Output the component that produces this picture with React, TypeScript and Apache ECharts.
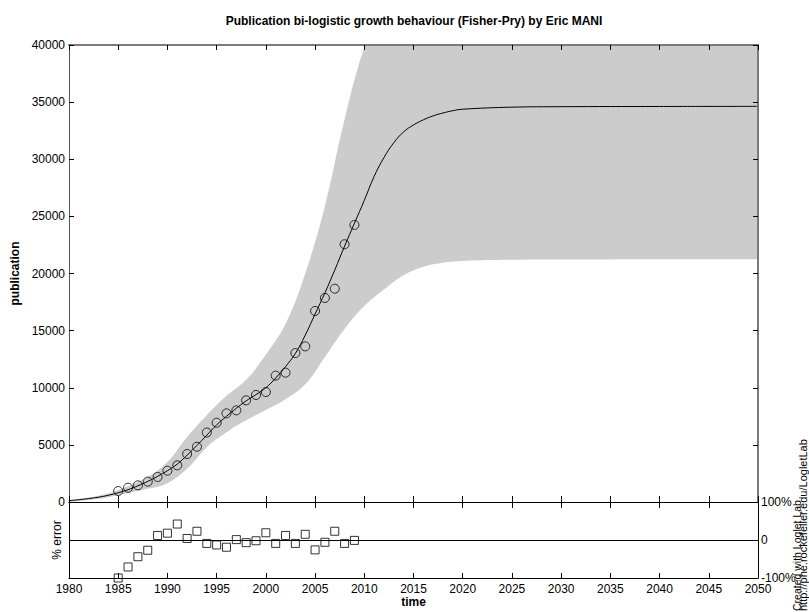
import React, { useEffect, useRef } from "react";
import * as echarts from "echarts";

const TITLE = "Publication bi-logistic growth behaviour (Fisher-Pry) by Eric MANI";
const CREDIT = "Created with Loglet Lab";
const CREDIT_URL = "http://phe.rockefeller.edu/LogletLab";

const dataYears = [
  1985, 1986, 1987, 1988, 1989, 1990, 1991, 1992, 1993, 1994, 1995, 1996, 1997,
  1998, 1999, 2000, 2001, 2002, 2003, 2004, 2005, 2006, 2007, 2008, 2009,
];
const publications = [
  960, 1250, 1460, 1780, 2190, 2740, 3210, 4200, 4840, 6080, 6940, 7760, 8020,
  8900, 9370, 9630, 11060, 11320, 13040, 13620, 16720, 17860, 18670, 22560, 24250,
];
const percentError = [
  -100, -71, -44, -27, 12, 18, 42, 4, 23, -9, -13, -19, 1, -7, -2, 19, -9, 12,
  -9, 15, -26, -6, 23, -9, -1,
];

const fitYears = [
  1980, 1981, 1982, 1983, 1984, 1985, 1986, 1987, 1988, 1989, 1990, 1991, 1992,
  1993, 1994, 1995, 1996, 1997, 1998, 1999, 2000, 2001, 2002, 2003, 2004, 2005,
  2006, 2007, 2008, 2009, 2010, 2011, 2012, 2013, 2014, 2015, 2016, 2017, 2018,
  2019, 2020, 2025, 2030, 2040, 2050,
];
const fitValues = [
  120, 200, 300, 420, 590, 810, 1080, 1420, 1800, 2240, 2740, 3320, 4100, 4950,
  5850, 6750, 7500, 8200, 8850, 9400, 10000, 10850, 11850, 13000, 14600, 16450,
  18300, 20300, 22400, 24400, 26400, 28500, 30150, 31450, 32400, 33000, 33450,
  33800, 34050, 34250, 34380, 34560, 34600, 34620, 34630,
];

const bandYears = [
  1980, 1983, 1985, 1988, 1990, 1992, 1994, 1996, 1998, 2000, 2002, 2004, 2006,
  2008, 2010, 2012, 2014, 2016, 2018, 2020, 2025, 2030, 2050,
];
const bandLower = [
  0, 280, 600, 1150, 1650, 2900, 4800, 6100, 7150, 8050, 9000, 10300, 12700,
  15150, 17150, 18600, 19850, 20600, 20950, 21100, 21200, 21230, 21250,
];
const bandUpper = [
  150, 550, 1050, 2200, 3500, 5700, 7600, 9300, 10700, 12900, 15600, 20000,
  25900, 33500, 39800, 44000, 46500, 47500, 48000, 48200, 48300, 48300, 48300,
];

const FONT = "'Liberation Sans', Arial, sans-serif";

export default function App() {
  const ref = useRef<HTMLDivElement>(null);

  useEffect(() => {
    if (!ref.current) return;
    const chart = echarts.init(ref.current, undefined, { renderer: "svg" });

    const tick = (len: number) => ({
      show: true,
      inside: true,
      length: len,
      lineStyle: { color: "#000", width: 1 },
    });
    const noSplit = { show: false };
    const labelStyle = {
      fontSize: 12,
      color: "#000",
      fontFamily: FONT,
      formatter: (v: number) => String(v),
    };

    const option: any = {
      animation: false,
      backgroundColor: "#fff",
      grid: [
        { left: 69, top: 45, width: 689, height: 457, containLabel: false },
        { left: 69, top: 502, width: 689, height: 76, containLabel: false },
      ],
      xAxis: [
        {
          gridIndex: 0, type: "value", position: "bottom", min: 1980, max: 2050, interval: 5,
          axisLine: { show: true, onZero: false, lineStyle: { color: "#000", width: 1 } },
          axisTick: tick(6), axisLabel: { show: false }, splitLine: noSplit, z: 5,
        },
        {
          gridIndex: 0, type: "value", position: "top", min: 1980, max: 2050, interval: 5,
          axisLine: { show: true, onZero: false, lineStyle: { color: "#7a7a7a", width: 2 } },
          axisTick: tick(5), axisLabel: { show: false }, splitLine: noSplit, z: 5,
        },
        {
          gridIndex: 1, type: "value", position: "bottom", min: 1980, max: 2050, interval: 5,
          axisLine: { show: true, onZero: false, lineStyle: { color: "#000", width: 1 } },
          axisTick: tick(5),
          axisLabel: { ...labelStyle, margin: 5 },
          name: "time", nameLocation: "middle", nameGap: 17,
          nameTextStyle: { fontSize: 12, fontWeight: "bold", color: "#000", fontFamily: FONT },
          splitLine: noSplit, z: 5,
        },
        {
          gridIndex: 1, type: "value", position: "top", min: 1980, max: 2050, interval: 5,
          axisLine: { show: true, onZero: false, lineStyle: { color: "#000", width: 1 } },
          axisTick: tick(6), axisLabel: { show: false }, splitLine: noSplit, z: 5,
        },
      ],
      yAxis: [
        {
          gridIndex: 0, type: "value", position: "left", min: 0, max: 40000, interval: 5000,
          axisLine: { show: true, onZero: false, lineStyle: { color: "#555", width: 1 } },
          axisTick: tick(5),
          axisLabel: { ...labelStyle, margin: 4 },
          name: "publication", nameLocation: "middle", nameGap: 44, nameRotate: 90,
          nameTextStyle: { fontSize: 12, fontWeight: "bold", color: "#000", fontFamily: FONT },
          splitLine: noSplit, z: 5,
        },
        {
          gridIndex: 0, type: "value", position: "right", min: 0, max: 40000, interval: 5000,
          axisLine: { show: true, onZero: false, lineStyle: { color: "#7a7a7a", width: 2 } },
          axisTick: tick(5), axisLabel: { show: false }, splitLine: noSplit, z: 5,
        },
        {
          gridIndex: 1, type: "value", position: "left", min: -100, max: 100, interval: 100,
          axisLine: { show: true, onZero: false, lineStyle: { color: "#000", width: 1 } },
          axisTick: { show: false }, axisLabel: { show: false },
          name: "% error", nameLocation: "middle", nameGap: 6, nameRotate: 90,
          nameTextStyle: { fontSize: 12, color: "#000", fontFamily: FONT },
          splitLine: noSplit, z: 5,
        },
        {
          gridIndex: 1, type: "value", position: "right", min: -100, max: 100, interval: 100,
          axisLine: { show: true, onZero: false, lineStyle: { color: "#000", width: 1 } },
          axisTick: { show: false },
          axisLabel: {
            ...labelStyle, margin: 3,
            formatter: (v: number) => (v === 0 ? "0" : `${v}%`),
          },
          splitLine: noSplit, z: 5,
        },
      ],
      series: [
        {
          name: "bandUpper", type: "line", xAxisIndex: 0, yAxisIndex: 0,
          data: bandYears.map((y, i) => [y, bandUpper[i]]),
          symbol: "none", smooth: 0.4,
          lineStyle: { opacity: 0, width: 0 },
          areaStyle: { color: "#cccccc", opacity: 1, origin: "start" },
          silent: true, z: 1,
        },
        {
          name: "bandLower", type: "line", xAxisIndex: 0, yAxisIndex: 0,
          data: bandYears.map((y, i) => [y, bandLower[i]]),
          symbol: "none", smooth: 0.4,
          lineStyle: { opacity: 0, width: 0 },
          areaStyle: { color: "#ffffff", opacity: 1, origin: "start" },
          silent: true, z: 1,
        },
        {
          name: "fit", type: "line", xAxisIndex: 0, yAxisIndex: 0,
          data: fitYears.map((y, i) => [y, fitValues[i]]),
          symbol: "none", smooth: 0.4,
          lineStyle: { color: "#000", width: 1 }, z: 2,
        },
        {
          name: "publication", type: "scatter", xAxisIndex: 0, yAxisIndex: 0,
          data: dataYears.map((y, i) => [y, publications[i]]),
          symbol: "circle", symbolSize: 9,
          itemStyle: { color: "rgba(0,0,0,0)", borderColor: "#000", borderWidth: 1 },
          z: 3,
        },
        {
          name: "error", type: "scatter", xAxisIndex: 2, yAxisIndex: 2,
          data: dataYears.map((y, i) => [y, percentError[i]]),
          symbol: "rect", symbolSize: 8, clip: false,
          itemStyle: { color: "rgba(0,0,0,0)", borderColor: "#000", borderWidth: 1 },
          markLine: {
            silent: true, symbol: ["none", "none"], label: { show: false },
            lineStyle: { color: "#000", width: 1, type: "solid" },
            data: [{ yAxis: 0 }],
          },
          z: 3,
        },
      ],
      graphic: [
        {
          type: "text", x: 414, y: 21, z: 10,
          style: {
            text: TITLE, fill: "#000", font: `bold 12px ${FONT}`,
            align: "center", verticalAlign: "middle",
            textAlign: "center", textVerticalAlign: "middle",
          },
        },
        {
          type: "text", x: 797, y: 611, rotation: Math.PI / 2, z: 10,
          style: {
            text: CREDIT, fill: "#000", font: `10.5px ${FONT}`,
            align: "left", verticalAlign: "middle",
            textAlign: "left", textVerticalAlign: "middle",
          },
        },
        {
          type: "text", x: 803, y: 611, rotation: Math.PI / 2, z: 10,
          style: {
            text: CREDIT_URL, fill: "#000", font: `11px ${FONT}`,
            align: "left", verticalAlign: "middle",
            textAlign: "left", textVerticalAlign: "middle",
          },
        },
      ],
    };

    chart.setOption(option);
    return () => chart.dispose();
  }, []);

  return (
    <div
      ref={ref}
      style={{ position: "fixed", left: 0, top: 0, width: 809, height: 612, background: "#fff" }}
    />
  );
}
